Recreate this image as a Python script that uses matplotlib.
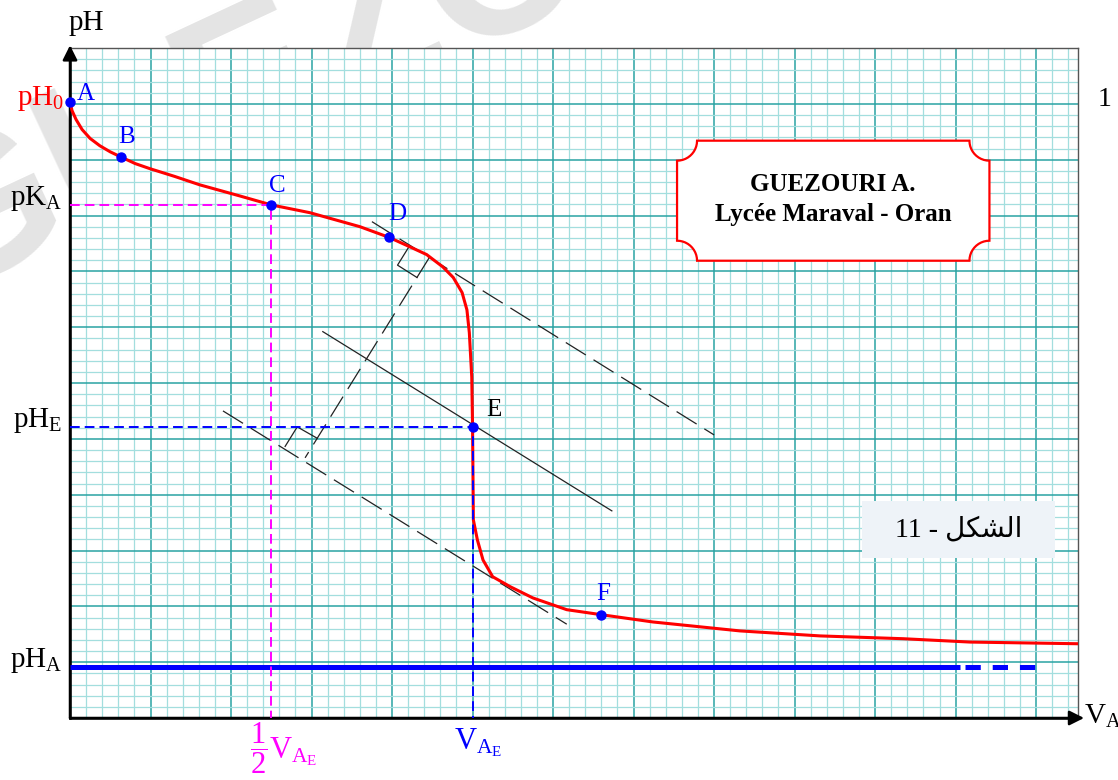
import numpy as np
import matplotlib
matplotlib.use("Agg")
import matplotlib.pyplot as plt
from matplotlib.patches import Polygon, Rectangle

# police type Times pour tout le dessin
matplotlib.rcParams['font.family'] = ['Liberation Serif', 'DejaVu Sans']
matplotlib.rcParams['mathtext.fontset'] = 'custom'
matplotlib.rcParams['mathtext.rm'] = 'Liberation Serif'
matplotlib.rcParams['mathtext.it'] = 'Liberation Serif:italic'
matplotlib.rcParams['mathtext.bf'] = 'Liberation Serif:bold'
matplotlib.rcParams['lines.scale_dashes'] = False

curve_x = [0, 0.025, 0.075, 0.15, 0.25, 0.37, 0.50, 0.63, 0.81, 0.99, 1.30, 1.61,
           2.11, 2.5, 2.98, 3.60, 3.96, 4.22, 4.43, 4.63, 4.76, 4.87, 4.93, 4.96,
           4.99, 5.0, 5.01, 5.06, 5.13, 5.25, 5.47, 5.75, 6.17, 6.6, 7.24, 8.32,
           9.32, 10.35, 11.18, 12.52]
curve_y = [11.04, 10.88, 10.72, 10.54, 10.38, 10.25, 10.14, 10.05, 9.93, 9.84, 9.70, 9.55,
           9.35, 9.19, 9.05, 8.80, 8.61, 8.44, 8.30, 8.08, 7.89, 7.62, 7.31, 6.90,
           6.11, 5.22, 3.55, 3.19, 2.83, 2.53, 2.35, 2.15, 1.94, 1.85, 1.72, 1.56,
           1.47, 1.42, 1.36, 1.33]

# points remarquables
pt_names = ['A', 'B', 'C', 'D', 'E', 'F']
pt_x = [0, 0.63, 2.5, 3.96, 5.0, 6.6]
pt_y = [11.04, 10.05, 9.19, 8.61, 5.22, 1.85]
pt_colors = ['blue', 'blue', 'blue', 'blue', 'black', 'blue']

pH0 = 11.04
pKa = 9.19
pHE = 5.22
pHA = 0.91
VAE = 5.0
half_VAE = 2.5
pHA_solid_end = 11.06
pHA_dash_end = 12.0

# méthode des tangentes parallèles
tan_up_x, tan_up_y = [3.75, 8.0], [8.89, 5.07]
tan_mid_x, tan_mid_y = [3.14, 6.73], [6.92, 3.71]
tan_low_x, tan_low_y = [1.90, 6.17], [5.50, 1.68]
perp_x, perp_y = [4.46, 2.92], [8.24, 4.66]

XMAX = 12.52
YMAX = 12.0


def right_angle(ax, corner, p_along, p_perp, size=23):
    # petit carré d'angle droit, construit en pixels
    c = ax.transData.transform(corner)
    a = ax.transData.transform(p_along) - c
    b = ax.transData.transform(p_perp) - c
    a = a / np.hypot(*a) * size
    b = b / np.hypot(*b) * size
    pts = np.array([c + a, c + a + b, c + b])
    pts = ax.transData.inverted().transform(pts)
    ax.plot(pts[:, 0], pts[:, 1], color='#222222', lw=0.9, zorder=3)


def label_box(ax, x0, x1, y0, y1, rx, ry):
    # cadre rouge aux coins creusés
    verts = []
    # coin haut-gauche
    for a in np.linspace(-np.pi / 2, 0, 12):
        verts.append((x0 + rx * np.cos(a), y1 + ry * np.sin(a)))
    # coin haut-droit
    for a in np.linspace(np.pi, 1.5 * np.pi, 12):
        verts.append((x1 + rx * np.cos(a), y1 + ry * np.sin(a)))
    # coin bas-droit
    for a in np.linspace(np.pi / 2, np.pi, 12):
        verts.append((x1 + rx * np.cos(a), y0 + ry * np.sin(a)))
    # coin bas-gauche
    for a in np.linspace(0, np.pi / 2, 12):
        verts.append((x0 + rx * np.cos(a), y0 + ry * np.sin(a)))
    ax.add_patch(Polygon(verts, closed=True, facecolor='white', edgecolor='#ff0000',
                         lw=1.6, zorder=6))


def main():
    fig = plt.figure(figsize=(11.18, 7.8), dpi=100)
    # filigrane (caché par le papier, visible seulement dans les marges)
    fig.text(-0.12, 0.62, 'GUEZOURI', fontsize=150, color='#e4e4e4', rotation=25,
             family='Liberation Sans', fontweight='bold', zorder=-10)
    ax = fig.add_axes([70 / 1118, 62 / 780, 1008 / 1118, 670 / 780])
    ax.set_xlim(0, XMAX)
    ax.set_ylim(0, YMAX)

    # papier millimétré
    ax.set_xticks(np.arange(0, XMAX, 1))
    ax.set_yticks(np.arange(0, YMAX + 0.01, 1))
    ax.set_xticks(np.arange(0, XMAX, 0.2), minor=True)
    ax.set_yticks(np.arange(0, YMAX + 0.01, 0.2), minor=True)
    ax.grid(which='minor', color='#a3dede', lw=0.9, zorder=0)
    ax.grid(which='major', color='#2aa3a3', lw=1.1, zorder=0)
    ax.set_axisbelow(True)
    ax.tick_params(which='both', length=0, labelbottom=False, labelleft=False)
    for side in ['top', 'right']:
        ax.spines[side].set_color('#555555')
        ax.spines[side].set_linewidth(1.0)
    for side in ['left', 'bottom']:
        ax.spines[side].set_color('black')
        ax.spines[side].set_linewidth(1.8)

    # flèches des axes
    ax.annotate('', xy=(1.006, 0), xytext=(0, 0), xycoords='axes fraction',
                arrowprops=dict(arrowstyle='-|>', mutation_scale=22, lw=1.8, color='black',
                                shrinkA=0, shrinkB=0), annotation_clip=False)
    ax.annotate('', xy=(0, 1.004), xytext=(0, 0), xycoords='axes fraction',
                arrowprops=dict(arrowstyle='-|>', mutation_scale=22, lw=1.8, color='black',
                                shrinkA=0, shrinkB=0), annotation_clip=False)

    # constructions
    dash_long = (0, (17, 6.5))
    ax.plot(tan_up_x, tan_up_y, color='#222222', lw=0.9, ls=dash_long, zorder=3)
    ax.plot(tan_low_x, tan_low_y, color='#222222', lw=0.9, ls=dash_long, zorder=3)
    ax.plot(perp_x, perp_y, color='#222222', lw=0.9, ls=dash_long, zorder=3)
    ax.plot(tan_mid_x, tan_mid_y, color='#222222', lw=0.9, zorder=3)
    right_angle(ax, (perp_x[0], perp_y[0]), (tan_up_x[0], tan_up_y[0]), (perp_x[1], perp_y[1]))
    right_angle(ax, (perp_x[1], perp_y[1]), (tan_low_x[0], tan_low_y[0]), (perp_x[0], perp_y[0]))

    # pH de la solution acide
    ax.plot([0, pHA_solid_end], [pHA, pHA], color='#0000ff', lw=3.6, solid_capstyle='butt', zorder=4)
    ax.plot([pHA_solid_end + 0.06, pHA_dash_end], [pHA, pHA], color='#0000ff', lw=3.6,
            ls=(0, (11, 8.6)), solid_capstyle='butt', zorder=4)

    # courbe
    ax.plot(curve_x, curve_y, color='#ff0000', lw=2.2, zorder=4, solid_joinstyle='round')

    # repères pKa et pHE
    dash_short = (0, (7, 3.6))
    ax.plot([0, half_VAE, half_VAE], [pKa, pKa, 0], color='#ff00ff', lw=1.4, ls=dash_short, zorder=5)
    ax.plot([0, VAE, VAE], [pHE, pHE, 0], color='#0000ff', lw=1.4, ls=dash_short, zorder=5)

    ax.scatter(pt_x, pt_y, s=42, color='#0000ff', zorder=7, clip_on=False)

    # étiquettes des points
    offsets = [(0.09, 0.14), (0.07, 0.35), (0.08, 0.33), (0.11, 0.42), (0.17, 0.3), (0.02, 0.37)]
    for name, x, y, c, (dx, dy) in zip(pt_names, pt_x, pt_y, pt_colors, offsets):
        ax.text(x + dx, y + dy, name, color=c, fontsize=18, ha='left' if name in 'AE' else 'center',
                va='center', zorder=8)

    # étiquettes des axes
    ax.text(0.2, 12.44, 'pH', fontsize=21, ha='center', va='center', clip_on=False)
    ax.text(-0.07, pH0 + 0.05, r'$\mathrm{pH}_0$', fontsize=21, color='#ff0000',
            ha='right', va='center', clip_on=False)
    ax.text(-0.1, pKa + 0.12, r'$\mathrm{pK}_\mathrm{A}$', fontsize=21, ha='right', va='center', clip_on=False)
    ax.text(-0.1, pHE + 0.1, r'$\mathrm{pH}_\mathrm{E}$', fontsize=21, ha='right', va='center', clip_on=False)
    ax.text(-0.1, pHA + 0.12, r'$\mathrm{pH}_\mathrm{A}$', fontsize=21, ha='right', va='center', clip_on=False)
    ax.text(half_VAE + 0.15, -0.55, r'$\dfrac{1}{2}\mathrm{V}_{\mathrm{A}_\mathrm{E}}$', fontsize=22,
            color='#ff00ff', ha='center', va='center', clip_on=False)
    ax.text(VAE + 0.07, -0.45, r'$\mathrm{V}_{\mathrm{A}_\mathrm{E}}$', fontsize=22,
            color='#0000ff', ha='center', va='center', clip_on=False)
    ax.text(12.6, 0.02, r'$\mathrm{V}_\mathrm{A}$', fontsize=21, ha='left', va='center', clip_on=False)
    ax.text(12.76, 11.07, '1', fontsize=20, ha='left', va='center', clip_on=False)

    # cartouche
    label_box(ax, 7.54, 11.42, 8.19, 10.34, 20 / 80.5, 20 / 55.8)
    ax.text(9.48, 9.56, 'GUEZOURI A.', fontsize=18, fontweight='bold', ha='center', va='center', zorder=7)
    ax.text(9.48, 9.02, 'Lycée Maraval - Oran', fontsize=18, fontweight='bold', ha='center', va='center',
            zorder=7)

    # numéro de la figure
    ax.add_patch(Rectangle((9.84, 2.87), 2.40, 1.02, facecolor='#eef3f8', edgecolor='none', zorder=6))
    ax.text(11.04, 3.38, '11 - \ufede\ufedc\ufeb8\ufedf\ufe8d', fontsize=20, ha='center', va='center',
            family=['Liberation Serif', 'DejaVu Sans'], zorder=7)

    fig.savefig('out.png', dpi=100)


if __name__ == '__main__':
    main()
